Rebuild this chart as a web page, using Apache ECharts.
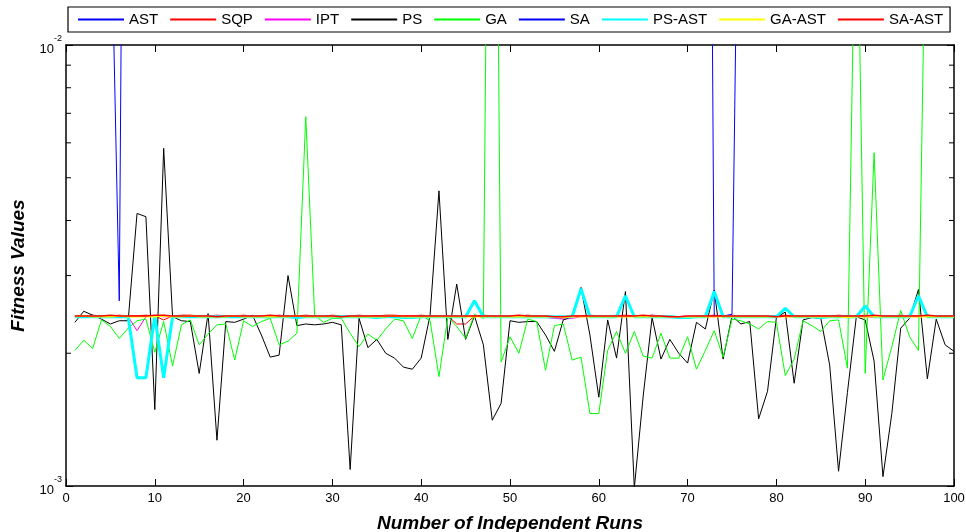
<!DOCTYPE html>
<html>
<head>
<meta charset="utf-8">
<title>Fitness Values</title>
<script src="https://cdn.jsdelivr.net/npm/echarts@6/dist/echarts.min.js"></script>
<style>
  html, body { margin: 0; padding: 0; background: #fff; }
  #main { width: 966px; height: 532px; }
</style>
</head>
<body>
<div id="main"></div>
<script>
// runs 1..100
const runs = Array.from({ length: 100 }, (_, i) => i + 1);

// AST and SA are off the top of the chart except around a few runs
const astPoints = [[5, 2.4e-2], [6, 2.63e-3], [7, 2.0]];
const saPoints = [[72, 3.0], [73, 2.43e-3], [74, 2.43e-3], [75, 2.45e-3], [76, 8.0e-2]];

const sqp = [
  2.43e-3, 2.43e-3, 2.44e-3, 2.43e-3, 2.43e-3, 2.44e-3, 2.43e-3, 2.43e-3, 2.44e-3, 2.43e-3,
  2.38e-3, 2.43e-3, 2.44e-3, 2.44e-3, 2.43e-3, 2.43e-3, 2.44e-3, 2.43e-3, 2.43e-3, 2.44e-3,
  2.43e-3, 2.43e-3, 2.43e-3, 2.44e-3, 2.43e-3, 2.43e-3, 2.44e-3, 2.43e-3, 2.43e-3, 2.44e-3,
  2.43e-3, 2.43e-3, 2.44e-3, 2.43e-3, 2.43e-3, 2.44e-3, 2.44e-3, 2.43e-3, 2.43e-3, 2.44e-3,
  2.43e-3, 2.43e-3, 2.43e-3, 2.33e-3, 2.33e-3, 2.43e-3, 2.44e-3, 2.43e-3, 2.43e-3, 2.43e-3,
  2.43e-3, 2.44e-3, 2.43e-3, 2.43e-3, 2.41e-3, 2.40e-3, 2.43e-3, 2.43e-3, 2.44e-3, 2.43e-3,
  2.43e-3, 2.43e-3, 2.44e-3, 2.43e-3, 2.43e-3, 2.44e-3, 2.43e-3, 2.43e-3, 2.42e-3, 2.42e-3,
  2.43e-3, 2.43e-3, 2.44e-3, 2.43e-3, 2.43e-3, 2.43e-3, 2.43e-3, 2.43e-3, 2.42e-3, 2.43e-3,
  2.44e-3, 2.43e-3, 2.43e-3, 2.43e-3, 2.43e-3, 2.43e-3, 2.44e-3, 2.43e-3, 2.43e-3, 2.44e-3,
  2.43e-3, 2.43e-3, 2.43e-3, 2.44e-3, 2.43e-3, 2.43e-3, 2.44e-3, 2.43e-3, 2.43e-3, 2.43e-3
];

const ipt = [
  2.42e-3, 2.42e-3, 2.43e-3, 2.42e-3, 2.42e-3, 2.43e-3, 2.42e-3, 2.25e-3, 2.42e-3, 2.43e-3,
  2.42e-3, 2.42e-3, 2.43e-3, 2.42e-3, 2.42e-3, 2.42e-3, 2.43e-3, 2.42e-3, 2.42e-3, 2.42e-3,
  2.43e-3, 2.42e-3, 2.42e-3, 2.43e-3, 2.42e-3, 2.42e-3, 2.42e-3, 2.43e-3, 2.42e-3, 2.42e-3,
  2.42e-3, 2.43e-3, 2.42e-3, 2.42e-3, 2.43e-3, 2.42e-3, 2.42e-3, 2.42e-3, 2.43e-3, 2.42e-3,
  2.42e-3, 2.42e-3, 2.43e-3, 2.42e-3, 2.42e-3, 2.43e-3, 2.42e-3, 2.42e-3, 2.42e-3, 2.43e-3,
  2.42e-3, 2.42e-3, 2.42e-3, 2.41e-3, 2.40e-3, 2.39e-3, 2.40e-3, 2.42e-3, 2.42e-3, 2.43e-3,
  2.42e-3, 2.42e-3, 2.42e-3, 2.43e-3, 2.42e-3, 2.44e-3, 2.42e-3, 2.42e-3, 2.42e-3, 2.43e-3,
  2.42e-3, 2.42e-3, 2.42e-3, 2.43e-3, 2.44e-3, 2.43e-3, 2.42e-3, 2.42e-3, 2.42e-3, 2.43e-3,
  2.42e-3, 2.42e-3, 2.42e-3, 2.43e-3, 2.42e-3, 2.42e-3, 2.42e-3, 2.43e-3, 2.42e-3, 2.42e-3,
  2.41e-3, 2.42e-3, 2.43e-3, 2.42e-3, 2.42e-3, 2.42e-3, 2.43e-3, 2.42e-3, 2.42e-3, 2.42e-3
];

const ps = [
  2.35e-3, 2.49e-3, 2.44e-3, 2.39e-3, 2.33e-3, 2.37e-3, 2.37e-3, 4.15e-3, 4.08e-3, 1.49e-3,
  5.83e-3, 2.42e-3, 2.37e-3, 2.36e-3, 1.80e-3, 2.46e-3, 1.27e-3, 2.36e-3, 2.35e-3, 2.39e-3,
  2.44e-3, 2.20e-3, 1.96e-3, 1.98e-3, 3.00e-3, 2.31e-3, 2.33e-3, 2.32e-3, 2.33e-3, 2.35e-3,
  2.32e-3, 1.09e-3, 2.40e-3, 2.06e-3, 2.15e-3, 2.00e-3, 1.95e-3, 1.86e-3, 1.84e-3, 1.95e-3,
  2.44e-3, 4.67e-3, 2.15e-3, 2.87e-3, 2.15e-3, 2.43e-3, 2.09e-3, 1.41e-3, 1.54e-3, 2.37e-3,
  2.35e-3, 2.36e-3, 2.36e-3, 2.20e-3, 2.02e-3, 2.38e-3, 2.42e-3, 2.82e-3, 2.20e-3, 1.59e-3,
  2.38e-3, 1.95e-3, 2.76e-3, 0.99e-3, 1.60e-3, 2.41e-3, 1.94e-3, 2.15e-3, 2.00e-3, 1.90e-3,
  2.35e-3, 2.27e-3, 2.78e-3, 1.94e-3, 2.43e-3, 2.33e-3, 2.36e-3, 1.42e-3, 1.64e-3, 2.41e-3,
  2.48e-3, 1.71e-3, 2.38e-3, 2.41e-3, 2.40e-3, 1.88e-3, 1.08e-3, 1.63e-3, 2.42e-3, 2.38e-3,
  1.92e-3, 1.05e-3, 1.46e-3, 2.28e-3, 2.40e-3, 2.79e-3, 1.75e-3, 2.39e-3, 2.09e-3, 2.02e-3
];

const ga = [
  2.03e-3, 2.14e-3, 2.05e-3, 2.38e-3, 2.30e-3, 2.16e-3, 2.28e-3, 2.37e-3, 2.39e-3, 2.01e-3,
  2.36e-3, 1.87e-3, 2.32e-3, 2.38e-3, 2.09e-3, 2.21e-3, 2.32e-3, 2.33e-3, 1.93e-3, 2.37e-3,
  2.30e-3, 2.36e-3, 2.40e-3, 2.09e-3, 2.13e-3, 2.22e-3, 6.88e-3, 2.44e-3, 2.35e-3, 2.40e-3,
  2.40e-3, 2.22e-3, 2.07e-3, 2.21e-3, 2.14e-3, 2.27e-3, 2.39e-3, 2.37e-3, 2.16e-3, 2.44e-3,
  2.37e-3, 1.77e-3, 2.42e-3, 2.30e-3, 2.16e-3, 2.45e-3, 2.40e-3, 5.0e-1, 1.91e-3, 2.18e-3,
  2.00e-3, 2.39e-3, 2.36e-3, 1.83e-3, 2.31e-3, 2.33e-3, 1.93e-3, 1.96e-3, 1.46e-3, 1.46e-3,
  2.03e-3, 2.24e-3, 2.00e-3, 2.24e-3, 1.97e-3, 1.95e-3, 2.22e-3, 1.95e-3, 1.95e-3, 2.18e-3,
  1.84e-3, 2.03e-3, 2.25e-3, 1.96e-3, 2.39e-3, 2.37e-3, 2.33e-3, 2.27e-3, 2.36e-3, 2.35e-3,
  1.78e-3, 1.94e-3, 2.37e-3, 2.31e-3, 2.24e-3, 2.37e-3, 2.38e-3, 1.85e-3, 3.0e-2, 1.80e-3,
  5.70e-3, 1.74e-3, 2.07e-3, 2.50e-3, 2.18e-3, 2.03e-3, 3.7e-2, 4.5e-2, 4.0e-2, 5.0e-2
];

const psAst = [
  2.42e-3, 2.42e-3, 2.42e-3, 2.42e-3, 2.42e-3, 2.42e-3, 2.42e-3, 1.76e-3, 1.76e-3, 2.43e-3,
  1.76e-3, 2.42e-3, 2.42e-3, 2.42e-3, 2.42e-3, 2.42e-3, 2.42e-3, 2.42e-3, 2.42e-3, 2.42e-3,
  2.42e-3, 2.42e-3, 2.42e-3, 2.42e-3, 2.42e-3, 2.41e-3, 2.42e-3, 2.42e-3, 2.42e-3, 2.42e-3,
  2.42e-3, 2.42e-3, 2.42e-3, 2.42e-3, 2.41e-3, 2.42e-3, 2.42e-3, 2.41e-3, 2.41e-3, 2.42e-3,
  2.42e-3, 2.42e-3, 2.42e-3, 2.42e-3, 2.42e-3, 2.63e-3, 2.42e-3, 2.42e-3, 2.42e-3, 2.42e-3,
  2.42e-3, 2.42e-3, 2.42e-3, 2.42e-3, 2.42e-3, 2.42e-3, 2.42e-3, 2.80e-3, 2.42e-3, 2.42e-3,
  2.42e-3, 2.42e-3, 2.70e-3, 2.42e-3, 2.42e-3, 2.42e-3, 2.42e-3, 2.42e-3, 2.41e-3, 2.41e-3,
  2.42e-3, 2.42e-3, 2.76e-3, 2.42e-3, 2.42e-3, 2.42e-3, 2.42e-3, 2.42e-3, 2.42e-3, 2.42e-3,
  2.53e-3, 2.42e-3, 2.42e-3, 2.42e-3, 2.41e-3, 2.42e-3, 2.42e-3, 2.42e-3, 2.42e-3, 2.56e-3,
  2.42e-3, 2.42e-3, 2.42e-3, 2.42e-3, 2.42e-3, 2.70e-3, 2.42e-3, 2.42e-3, 2.42e-3, 2.42e-3
];

const gaAst = [
  2.42e-3, 2.43e-3, 2.42e-3, 2.42e-3, 2.42e-3, 2.43e-3, 2.42e-3, 2.42e-3, 2.42e-3, 2.42e-3,
  2.43e-3, 2.42e-3, 2.42e-3, 2.43e-3, 2.42e-3, 2.42e-3, 2.42e-3, 2.42e-3, 2.43e-3, 2.42e-3,
  2.42e-3, 2.42e-3, 2.42e-3, 2.42e-3, 2.42e-3, 2.43e-3, 2.42e-3, 2.42e-3, 2.42e-3, 2.42e-3,
  2.42e-3, 2.42e-3, 2.42e-3, 2.42e-3, 2.42e-3, 2.42e-3, 2.43e-3, 2.42e-3, 2.42e-3, 2.42e-3,
  2.42e-3, 2.42e-3, 2.42e-3, 2.42e-3, 2.42e-3, 2.42e-3, 2.42e-3, 2.42e-3, 2.42e-3, 2.42e-3,
  2.42e-3, 2.42e-3, 2.42e-3, 2.42e-3, 2.42e-3, 2.41e-3, 2.42e-3, 2.42e-3, 2.42e-3, 2.42e-3,
  2.42e-3, 2.42e-3, 2.42e-3, 2.42e-3, 2.42e-3, 2.42e-3, 2.42e-3, 2.42e-3, 2.42e-3, 2.42e-3,
  2.42e-3, 2.42e-3, 2.42e-3, 2.42e-3, 2.42e-3, 2.42e-3, 2.42e-3, 2.42e-3, 2.42e-3, 2.42e-3,
  2.42e-3, 2.42e-3, 2.42e-3, 2.42e-3, 2.42e-3, 2.42e-3, 2.42e-3, 2.41e-3, 2.42e-3, 2.42e-3,
  2.42e-3, 2.42e-3, 2.42e-3, 2.42e-3, 2.42e-3, 2.42e-3, 2.42e-3, 2.42e-3, 2.42e-3, 2.42e-3
];

const saAst = [
  2.43e-3, 2.43e-3, 2.43e-3, 2.43e-3, 2.44e-3, 2.43e-3, 2.43e-3, 2.43e-3, 2.43e-3, 2.44e-3,
  2.44e-3, 2.43e-3, 2.43e-3, 2.43e-3, 2.43e-3, 2.43e-3, 2.42e-3, 2.43e-3, 2.43e-3, 2.43e-3,
  2.43e-3, 2.43e-3, 2.44e-3, 2.43e-3, 2.43e-3, 2.43e-3, 2.43e-3, 2.43e-3, 2.43e-3, 2.43e-3,
  2.42e-3, 2.43e-3, 2.43e-3, 2.43e-3, 2.43e-3, 2.43e-3, 2.43e-3, 2.43e-3, 2.43e-3, 2.43e-3,
  2.43e-3, 2.43e-3, 2.43e-3, 2.43e-3, 2.43e-3, 2.43e-3, 2.43e-3, 2.43e-3, 2.43e-3, 2.43e-3,
  2.44e-3, 2.43e-3, 2.43e-3, 2.43e-3, 2.42e-3, 2.42e-3, 2.43e-3, 2.43e-3, 2.43e-3, 2.43e-3,
  2.43e-3, 2.43e-3, 2.43e-3, 2.43e-3, 2.44e-3, 2.43e-3, 2.43e-3, 2.42e-3, 2.42e-3, 2.43e-3,
  2.43e-3, 2.43e-3, 2.43e-3, 2.43e-3, 2.43e-3, 2.43e-3, 2.43e-3, 2.43e-3, 2.43e-3, 2.42e-3,
  2.43e-3, 2.43e-3, 2.43e-3, 2.43e-3, 2.43e-3, 2.43e-3, 2.43e-3, 2.43e-3, 2.43e-3, 2.43e-3,
  2.44e-3, 2.43e-3, 2.43e-3, 2.43e-3, 2.43e-3, 2.43e-3, 2.44e-3, 2.43e-3, 2.43e-3, 2.43e-3
];

// log-axis minor ticks (2..9 x 10^-3)
const yMinorTicks = [2e-3, 3e-3, 4e-3, 5e-3, 6e-3, 7e-3, 8e-3, 9e-3];

const FONT = "'Liberation Sans', Arial, sans-serif";

const pairs = (vals) => vals.map((v, i) => [runs[i], v]);

function lineSeries(name, data, color, width) {
  return {
    name: name,
    type: 'line',
    data: data,
    symbol: 'none',
    animation: false,
    clip: true,
    lineStyle: { color: color, width: width },
    itemStyle: { color: color }
  };
}

const chart = echarts.init(document.getElementById('main'));

const logLabel = (v) => {
  const e = Math.round(Math.log10(v));
  return '{b|10}{s|' + e + '}';
};

const titleStyle = { fontFamily: FONT, fontSize: 19, fontWeight: 'bold', fontStyle: 'italic', color: '#000' };

const option = {
  backgroundColor: '#fff',
  textStyle: { fontFamily: FONT },
  legend: {
    left: 68,
    top: 7,
    orient: 'horizontal',
    padding: [5, 7, 5, 9],
    itemWidth: 46,
    itemHeight: 14,
    itemGap: 11,
    borderColor: '#000',
    borderWidth: 1.2,
    backgroundColor: '#fff',
    itemStyle: { opacity: 0 },
    textStyle: { fontFamily: FONT, fontSize: 15, color: '#000' },
    data: ['AST', 'SQP', 'IPT', 'PS', 'GA', 'SA', 'PS-AST', 'GA-AST', 'SA-AST']
  },
  grid: { left: 66, right: 12, top: 45, bottom: 46, containLabel: false, outerBoundsMode: 'none' },
  xAxis: [
    {
      type: 'value', min: 0, max: 100, interval: 10,
      name: 'Number of Independent Runs',
      nameLocation: 'middle',
      nameGap: 28,
      nameTextStyle: titleStyle,
      axisLine: { onZero: false, lineStyle: { color: '#000', width: 1.5 } },
      axisTick: { inside: true, length: 7, lineStyle: { color: '#000' } },
      axisLabel: { fontFamily: FONT, fontSize: 13, color: '#000', margin: 6 },
      splitLine: { show: false }
    },
    {
      type: 'value', min: 0, max: 100, interval: 10, position: 'top',
      axisLine: { onZero: false, lineStyle: { color: '#000', width: 1.5 } },
      axisTick: { inside: true, length: 7, lineStyle: { color: '#000' } },
      axisLabel: { show: false },
      splitLine: { show: false }
    }
  ],
  yAxis: [
    {
      type: 'log', logBase: 10, min: 1e-3, max: 1e-2,
      name: 'Fitness Values',
      nameLocation: 'middle',
      nameGap: 36,
      nameRotate: 90,
      nameTextStyle: titleStyle,
      axisLine: { onZero: false, lineStyle: { color: '#000', width: 1.5 } },
      axisTick: { inside: true, length: 7, lineStyle: { color: '#000' } },
      axisLabel: {
        margin: 4,
        formatter: logLabel,
        rich: {
          b: { fontFamily: FONT, fontSize: 13, color: '#000', lineHeight: 22, verticalAlign: 'bottom' },
          s: { fontFamily: FONT, fontSize: 9, color: '#000', lineHeight: 22, verticalAlign: 'top' }
        }
      },
      splitLine: { show: false }
    },
    {
      type: 'log', logBase: 10, min: 1e-3, max: 1e-2, position: 'right',
      axisLine: { onZero: false, lineStyle: { color: '#000', width: 1.5 } },
      axisTick: { inside: true, length: 7, lineStyle: { color: '#000' } },
      axisLabel: { show: false },
      splitLine: { show: false }
    }
  ],
  series: [
    lineSeries('AST', astPoints, '#0000ff', 1),
    lineSeries('SQP', pairs(sqp), '#ff0000', 1),
    lineSeries('IPT', pairs(ipt), '#ff00ff', 1),
    lineSeries('PS', pairs(ps), '#000000', 1),
    lineSeries('GA', pairs(ga), '#00ff00', 1),
    lineSeries('SA', saPoints, '#0000ff', 1),
    lineSeries('PS-AST', pairs(psAst), '#00ffff', 3),
    lineSeries('GA-AST', pairs(gaAst), '#ffff00', 1.5),
    lineSeries('SA-AST', pairs(saAst), '#ff0000', 1.5),
    {
      type: 'custom',
      silent: true,
      animation: false,
      z: 10,
      data: yMinorTicks.map((v) => [0, v]),
      renderItem: function (params, api) {
        const v = api.value(1);
        const l = api.coord([0, v]);
        const r = api.coord([100, v]);
        const st = { stroke: '#000', lineWidth: 1 };
        return {
          type: 'group',
          children: [
            { type: 'line', shape: { x1: l[0], y1: l[1], x2: l[0] + 5, y2: l[1] }, style: st },
            { type: 'line', shape: { x1: r[0] - 5, y1: r[1], x2: r[0], y2: r[1] }, style: st }
          ]
        };
      }
    }
  ]
};

chart.setOption(option);
</script>
</body>
</html>
